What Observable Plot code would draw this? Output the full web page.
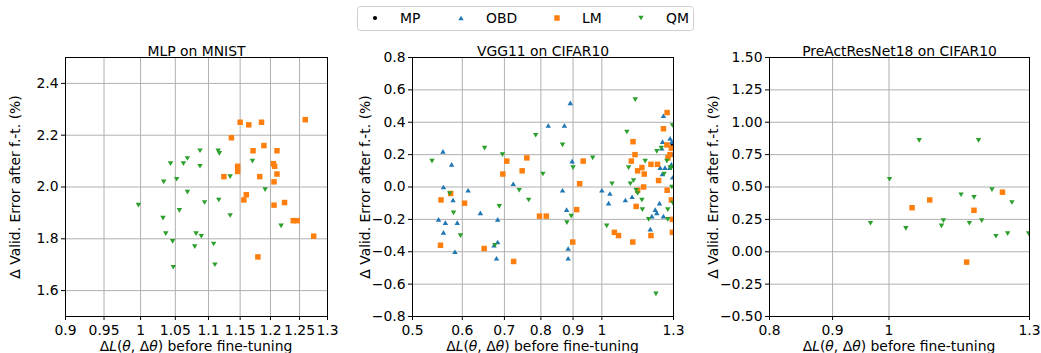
<!DOCTYPE html>
<html><head><meta charset="utf-8">
<script src="https://cdn.jsdelivr.net/npm/d3@7"></script>
<script src="https://cdn.jsdelivr.net/npm/@observablehq/plot@0.6"></script>
<style>
body{margin:0;background:#fff;font-family:"DejaVu Sans",sans-serif;}
#wrap{position:relative;width:1041px;height:353px;overflow:hidden;}
.panel{position:absolute;top:0;}
#legend{position:absolute;left:357px;top:6px;}
</style></head><body>
<div id="wrap"></div>
<script>
// ---------- data ----------
const methods = ["MP", "OBD", "LM", "QM"];
const colors = ["#000000", "#1f77b4", "#ff7f0e", "#2ca02c"];

const titles = ["MLP on MNIST", "VGG11 on CIFAR10", "PreActResNet18 on CIFAR10"];
const xLabelText = " before fine-tuning";
const yLabelText = "Δ Valid. Error after f.-t. (%)";

const xTicks1 = [0.9, 0.95, 1, 1.05, 1.1, 1.15, 1.2, 1.25, 1.3];
const xTicks2 = [0.5, 0.6, 0.7, 0.8, 0.9, 1, 1.3];
const xTicks3 = [0.8, 0.9, 1, 1.3];
const yTicks1 = [1.6, 1.8, 2.0, 2.2, 2.4];
const yTicks2 = [-0.8, -0.6, -0.4, -0.2, 0, 0.2, 0.4, 0.6, 0.8];
const yTicks3 = [-0.5, -0.25, 0, 0.25, 0.5, 0.75, 1.0, 1.25, 1.5];

// MLP on MNIST
const mlp_LM = [[1.150,2.25],[1.164,2.24],[1.185,2.25],[1.260,2.26],[1.136,2.19],[1.171,2.14],[1.189,2.16],[1.211,2.14],[1.146,2.08],[1.146,2.06],[1.124,2.04],[1.182,2.04],[1.205,2.09],[1.207,2.08],[1.211,2.05],[1.206,2.02],[1.160,1.97],[1.156,1.95],[1.206,1.93],[1.224,1.94],[1.239,1.87],[1.246,1.87],[1.275,1.81],[1.179,1.73]];
const mlp_QM = [[0.997,1.93],[1.032,1.88],[1.033,2.02],[1.043,2.09],[1.036,1.82],[1.046,1.79],[1.047,1.69],[1.052,2.03],[1.056,1.91],[1.062,2.09],[1.068,2.11],[1.068,1.98],[1.079,1.77],[1.081,1.82],[1.089,1.81],[1.087,2.14],[1.087,2.08],[1.094,1.94],[1.115,2.14],[1.117,2.13],[1.116,1.95],[1.108,1.78],[1.110,1.70],[1.134,2.04],[1.134,1.89],[1.170,2.10],[1.191,1.99],[1.218,1.85]];

// VGG11 on CIFAR10
const vgg_MP = [[1.295,0.26],[1.305,0.20]];
const vgg_OBD = [[0.559,0.22],[0.56,0.00],[0.577,0.14],[0.58,-0.08],[0.55,-0.20],[0.564,-0.22],[0.56,-0.28],[0.589,-0.22],[0.584,-0.40],[0.613,-0.02],[0.641,-0.16],[0.683,-0.20],[0.683,-0.34],[0.674,-0.36],[0.68,-0.44],[0.723,0.02],[0.822,0.38],[0.872,0.38],[0.891,0.52],[0.897,0.16],[0.866,-0.02],[0.879,-0.14],[0.884,-0.38],[0.884,-0.44],[1.0,-0.02],[1.03,-0.04],[1.025,-0.10],[1.09,-0.08],[1.117,-0.06],[1.194,-0.26],[1.201,-0.18],[1.216,-0.14],[1.223,-0.16],[1.235,-0.10],[1.238,0.12],[1.248,0.08],[1.26,0.12],[1.249,0.28],[1.245,0.24],[1.253,0.44],[1.253,-0.18],[1.284,0.30],[1.292,0.28],[1.295,0.20],[1.29,0.14],[1.282,0.12],[1.296,0.06]];
const vgg_LM = [[0.555,-0.08],[0.575,-0.04],[0.554,-0.36],[0.605,-0.10],[0.65,-0.38],[0.696,0.08],[0.706,0.16],[0.724,-0.46],[0.747,0.10],[0.76,0.18],[0.796,-0.18],[0.816,-0.18],[0.899,-0.34],[0.912,-0.14],[0.922,0.02],[0.934,0.16],[1.047,-0.28],[1.063,-0.30],[1.121,0.28],[1.129,0.20],[1.114,0.16],[1.14,0.10],[1.158,0.12],[1.168,0.08],[1.134,-0.12],[1.14,-0.02],[1.165,0.00],[1.12,-0.34],[1.197,0.14],[1.226,0.14],[1.231,0.04],[1.197,-0.30],[1.253,0.36],[1.27,0.46],[1.269,0.26],[1.274,0.18],[1.27,-0.02],[1.29,0.24],[1.29,-0.08],[1.295,-0.20],[1.295,-0.28],[1.283,0.20]];
const vgg_QM = [[0.537,0.16],[0.573,-0.04],[0.581,-0.16],[0.596,-0.30],[0.651,0.24],[0.695,0.20],[0.687,-0.12],[0.676,-0.36],[0.739,-0.02],[0.765,-0.08],[0.785,0.32],[0.806,0.08],[0.866,0.26],[0.90,0.12],[0.88,-0.22],[0.894,-0.18],[0.967,0.18],[1.018,-0.24],[1.038,0.02],[1.096,0.34],[1.103,0.12],[1.11,0.02],[1.123,0.04],[1.13,0.54],[1.134,-0.02],[1.14,-0.04],[1.158,-0.08],[1.16,-0.14],[1.172,0.16],[1.187,-0.20],[1.219,-0.66],[1.223,0.22],[1.243,0.24],[1.269,0.16],[1.273,-0.20],[1.273,-0.14],[1.256,0.08],[1.295,0.38],[1.29,0.12],[1.292,0.00],[1.297,-0.10],[1.285,0.12]];

// PreActResNet18 on CIFAR10
const res_LM = [[1.044,0.34],[1.079,0.40],[1.172,0.32],[1.236,0.46],[1.156,-0.08]];
const res_QM = [[0.966,0.22],[1.001,0.56],[1.032,0.18],[1.058,0.86],[1.103,0.20],[1.107,0.24],[1.144,0.44],[1.162,0.22],[1.172,0.42],[1.182,0.86],[1.189,0.24],[1.212,0.48],[1.221,0.12],[1.248,0.14],[1.258,0.38],[1.298,0.14]];

// ---------- symbols ----------
const triUp = {draw(ctx, size){ const w = Math.sqrt(size/Math.PI)*1.3, h = w*0.85; ctx.moveTo(0,-h); ctx.lineTo(w,h); ctx.lineTo(-w,h); ctx.closePath(); }};
const triDown = {draw(ctx, size){ const w = Math.sqrt(size/Math.PI)*1.3, h = w*0.85; ctx.moveTo(0,h); ctx.lineTo(w,-h); ctx.lineTo(-w,-h); ctx.closePath(); }};
const symbols = ["circle", triUp, "square", triDown];
const radii = [2.1, 2.1, 3.1, 2.1];
const FS = 13.9;

function seriesMarks(series) {
  return series.map(([m, data]) => Plot.dot(data, {
    x: d => d[0], y: d => d[1], symbol: symbols[m], r: radii[m],
    fill: colors[m], stroke: "none", clip: true
  }));
}

const wrap = document.getElementById("wrap");

function panel(cfg) {
  const {left, width, ml, mr, xDomain, xTicks, yDomain, yTicks, yFmt, title, ydx, series} = cfg;
  const height = 353, mt = 57, mb = 37;
  const svg = Plot.plot({
    width, height,
    marginLeft: ml, marginRight: mr, marginTop: mt, marginBottom: mb,
    style: {fontFamily: "DejaVu Sans", fontSize: FS + "px", color: "black", background: "transparent", overflow: "visible"},
    x: {type: "log", domain: xDomain},
    y: {domain: yDomain},
    marks: [
      Plot.gridX(xTicks, {stroke: "#b0b0b0", strokeOpacity: 1, strokeWidth: 1}),
      Plot.gridY(yTicks, {stroke: "#b0b0b0", strokeOpacity: 1, strokeWidth: 1}),
      ...seriesMarks(series),
      Plot.frame({stroke: "black", strokeWidth: 1}),
      Plot.axisX(xTicks, {tickSize: 4, tickPadding: 4.5, tickFormat: () => "", label: null}),
      Plot.text(xTicks, {x: d => d, frameAnchor: "bottom", lineAnchor: "top", dy: 8.5,
        text: d => String(d), fontSize: FS, fill: "black", textAnchor: "middle"}),
      Plot.axisY(yTicks, {tickSize: 4, tickPadding: 3, tickFormat: yFmt, label: null, fontSize: FS}),
      Plot.text([title], {frameAnchor: "top", dy: -11, fontSize: FS, fill: "black", textAnchor: "middle"}),
      Plot.text([yLabelText], {frameAnchor: "left", rotate: -90, dx: ydx, fontSize: FS, fill: "black", textAnchor: "middle"})
    ]
  });
  const t = d3.select(svg).append("text")
    .attr("x", ml + (width - ml - mr) / 2).attr("y", 351)
    .attr("text-anchor", "middle").attr("fill", "black")
    .attr("font-family", "DejaVu Sans").attr("font-size", FS);
  t.append("tspan").text("Δ");
  t.append("tspan").attr("font-style", "italic").text("L");
  t.append("tspan").text("(");
  t.append("tspan").attr("font-style", "italic").text("θ");
  t.append("tspan").text(", Δ");
  t.append("tspan").attr("font-style", "italic").text("θ");
  t.append("tspan").text(")" + xLabelText);
  svg.classList.add("panel");
  svg.style.left = left + "px";
  wrap.appendChild(svg);
}

panel({left: 0, width: 345, ml: 65, mr: 18, xDomain: [0.9, 1.3], xTicks: xTicks1,
  yDomain: [1.5, 2.5], yTicks: yTicks1, yFmt: d3.format(".1f"), title: titles[0], ydx: -50,
  series: [[2, mlp_LM], [3, mlp_QM]]});
panel({left: 345, width: 345, ml: 67, mr: 17, xDomain: [0.5, 1.3], xTicks: xTicks2,
  yDomain: [-0.8, 0.8], yTicks: yTicks2, yFmt: d3.format(".1f"), title: titles[1], ydx: -47,
  series: [[0, vgg_MP], [1, vgg_OBD], [2, vgg_LM], [3, vgg_QM]]});
panel({left: 690, width: 351, ml: 79, mr: 12, xDomain: [0.8, 1.3], xTicks: xTicks3,
  yDomain: [-0.5, 1.5], yTicks: yTicks3, yFmt: d3.format(".2f"), title: titles[2], ydx: -56,
  series: [[2, res_LM], [3, res_QM]]});

// ---------- legend ----------
const lg = d3.select(wrap).append("svg").attr("id", "legend").attr("width", 337).attr("height", 25);
lg.append("rect").attr("x", 0.5).attr("y", 0.5).attr("width", 336).attr("height", 24).attr("rx", 3)
  .attr("fill", "white").attr("stroke", "#d0d0d0");
const itemX = [18, 104, 200, 284];
methods.forEach((m, i) => {
  const sym = typeof symbols[i] === "string" ? (symbols[i] === "circle" ? d3.symbolCircle : d3.symbolSquare) : symbols[i];
  lg.append("path").attr("d", d3.symbol(sym, Math.PI * radii[i] * radii[i])())
    .attr("transform", `translate(${itemX[i]},12)`).attr("fill", colors[i]);
  lg.append("text").attr("x", itemX[i] + 25).attr("y", 17).attr("font-family", "DejaVu Sans")
    .attr("font-size", FS).attr("fill", "black").text(m);
});
</script>
</body></html>
